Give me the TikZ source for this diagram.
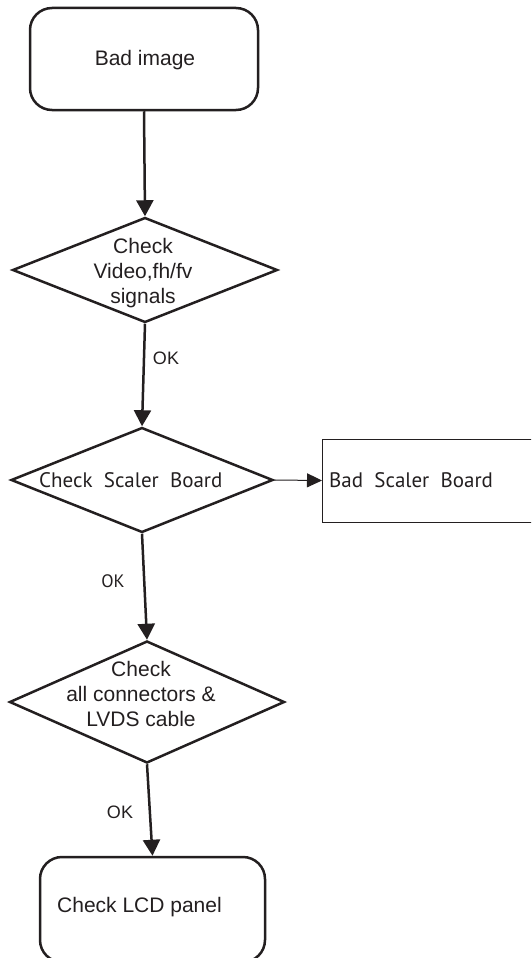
\documentclass[tikz,border=0pt]{standalone}
\usepackage{fontspec}
\setmainfont{Liberation Sans}
\newfontfamily\myriad{PT Sans}
\usetikzlibrary{shapes.geometric,arrows.meta}
\definecolor{ink}{HTML}{231F20}
\tikzset{
  roundbox/.style={draw=ink, line width=2.5pt, rounded corners=22pt, inner sep=0pt},
  decision/.style={diamond, draw=ink, line width=2.5pt, inner sep=0pt},
  flow/.style={draw=ink, line width=2.5pt, -{Triangle[length=16pt,width=17pt]}},
  thinflow/.style={draw=ink, line width=1pt, -{Triangle[length=15pt,width=14pt]}},
  txt/.style={text=ink, font=\fontsize{21}{25}\selectfont, inner sep=0pt},
  oktxt/.style={text=ink, font=\fontsize{18}{22}\selectfont, inner sep=0pt},
}
\begin{document}
\begin{tikzpicture}[x=1pt, y=-1pt]
  \useasboundingbox (0,0) rectangle (531,958);
  \clip (0,0) rectangle (531,958);
  % start box
  \node[roundbox, minimum width=228, minimum height=102] (bad) at (144,59) {};
  \node[txt] (badtxt) at (145,60) {Bad image};
  % decisions
  \node[decision, minimum width=265, minimum height=105] (sig) at (145,270) {};
  \node[txt, align=center] (sigtxt) at (143,273) {Check\\Video,fh/fv\\signals};
  \node[decision, minimum width=262, minimum height=105] (scaler) at (142,480) {};
  \node[txt, font=\myriad\fontsize{21}{25}\selectfont, anchor=west] (scalertxt) at (39,480) {Check\ \ Scaler\ \ Board};
  \node[decision, minimum width=275, minimum height=122] (conn) at (147,702) {};
  \node[txt, align=center] (conntxt) at (141,694) {Check\\all connectors \&\\LVDS cable};
  % side box, runs off the right edge
  \node[draw=ink, line width=1pt, minimum width=220, minimum height=83, inner sep=0pt, anchor=west] (badsb) at (322,480.5) {};
  \node[txt, font=\myriad\fontsize{21}{25}\selectfont, anchor=west] (badsbtxt) at (329,480) {Bad\ \ Scaler\ \ Board};
  % end box, runs off the bottom edge
  \node[roundbox, minimum width=225, minimum height=105] (lcd) at (152.5,909.5) {};
  \node[txt] (lcdtxt) at (139.5,907) {Check LCD panel};
  % arrows
  \draw[flow] (bad.south) -- (sig.north);
  \draw[flow] (sig.south) -- (scaler.north);
  \draw[flow] (scaler.south) -- (conn.north);
  \draw[flow] (conn.south) -- (lcd.north);
  \draw[thinflow] (scaler.east) -- (badsb.west);
  % labels
  \node[oktxt] (ok1) at (166,358) {OK};
  \node[oktxt, font=\myriad\fontsize{18}{22}\selectfont] (ok2) at (113,581) {OK};
  \node[oktxt] (ok3) at (120,812) {OK};
\end{tikzpicture}
\end{document}
